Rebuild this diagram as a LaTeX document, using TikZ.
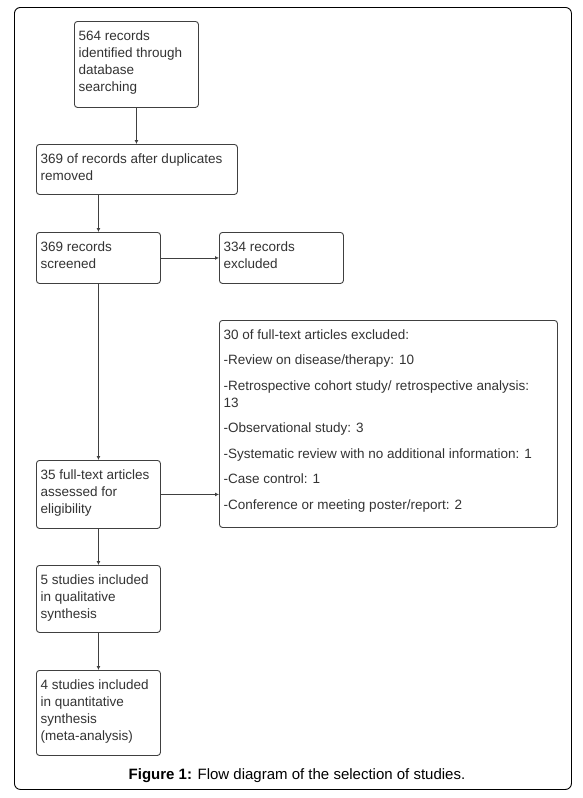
\documentclass[tikz,border=0pt]{standalone}
\usepackage{fontspec}
\setmainfont{Liberation Sans}
\usetikzlibrary{arrows.meta,calc}
\definecolor{txtgray}{HTML}{333333}
\definecolor{linegray}{HTML}{404040}
\begin{document}
\begin{tikzpicture}[x=1pt,y=-1pt,
  box/.style={draw=linegray, line width=0.9pt, rounded corners=3pt, anchor=north west, inner sep=0pt, fill=white},
  txt/.style={anchor=north west, inner sep=0pt, align=left, text=txtgray, font=\fontsize{13.5}{17}\selectfont},
  arr/.style={draw=linegray, line width=0.9pt, -{Latex[length=4pt,width=4pt]}}]
\useasboundingbox (0,0) rectangle (583,798);
\node[draw=black, line width=0.9pt, rounded corners=6pt, anchor=north west, inner sep=0pt, minimum width=557pt, minimum height=782pt] (frame) at (14,7) {};

\node[box, minimum width=124pt, minimum height=86pt] (b1) at (74,21) {};
\node[txt] (t1) at ([xshift=4.5pt,yshift=-9.5pt]b1.north west) {564 records\\identified through\\database\\searching};

\node[box, minimum width=201pt, minimum height=50pt] (b2) at (36,144) {};
\node[txt] (t2) at ([xshift=4.5pt,yshift=-9.5pt]b2.north west) {369 of records after duplicates\\removed};

\node[box, minimum width=124pt, minimum height=51pt] (b3) at (36,232) {};
\node[txt] (t3) at ([xshift=4.5pt,yshift=-9.5pt]b3.north west) {369 records\\screened};

\node[box, minimum width=124pt, minimum height=51pt] (b4) at (219,232) {};
\node[txt] (t4) at ([xshift=4.5pt,yshift=-9.5pt]b4.north west) {334 records\\excluded};

\node[box, minimum width=338pt, minimum height=207pt] (b8) at (219,320) {};
\node[txt] (t8) at ([xshift=4.5pt,yshift=-9.5pt]b8.north west) {30 of full-text articles excluded:\\[8.5pt]
-Review on disease/therapy: 10\\[8.5pt]
-Retrospective cohort study/ retrospective analysis:\\13\\[8.5pt]
-Observational study: 3\\[8.5pt]
-Systematic review with no additional information: 1\\[8.5pt]
-Case control: 1\\[8.5pt]
-Conference or meeting poster/report: 2};

\node[box, minimum width=124pt, minimum height=68pt] (b5) at (36,460) {};
\node[txt] (t5) at ([xshift=4.5pt,yshift=-9.5pt]b5.north west) {35 full-text articles\\assessed for\\eligibility};

\node[box, minimum width=124pt, minimum height=67pt] (b6) at (36,565) {};
\node[txt] (t6) at ([xshift=4.5pt,yshift=-9.5pt]b6.north west) {5 studies included\\in qualitative\\synthesis};

\node[box, minimum width=124pt, minimum height=85pt] (b7) at (36,670) {};
\node[txt] (t7) at ([xshift=4.5pt,yshift=-9.5pt]b7.north west) {4 studies included\\in quantitative\\synthesis\\(meta-analysis)};

\node[anchor=base, inner sep=0pt, font=\fontsize{15}{18}\selectfont] (cap) at (297,779.5) {\textbf{Figure 1:} Flow diagram of the selection of studies.};

\draw[arr] (b1.south) -- (b2.north -| b1.south);
\draw[arr] (b3.north |- b2.south) -- (b3.north);
\draw[arr] (b3.east) -- (b4.west);
\draw[arr] (b3.south) -- (b5.north);
\draw[arr] (b5.east) -- (b5.east -| b8.west);
\draw[arr] (b5.south) -- (b6.north);
\draw[arr] (b6.south) -- (b7.north);
\end{tikzpicture}
\end{document}
